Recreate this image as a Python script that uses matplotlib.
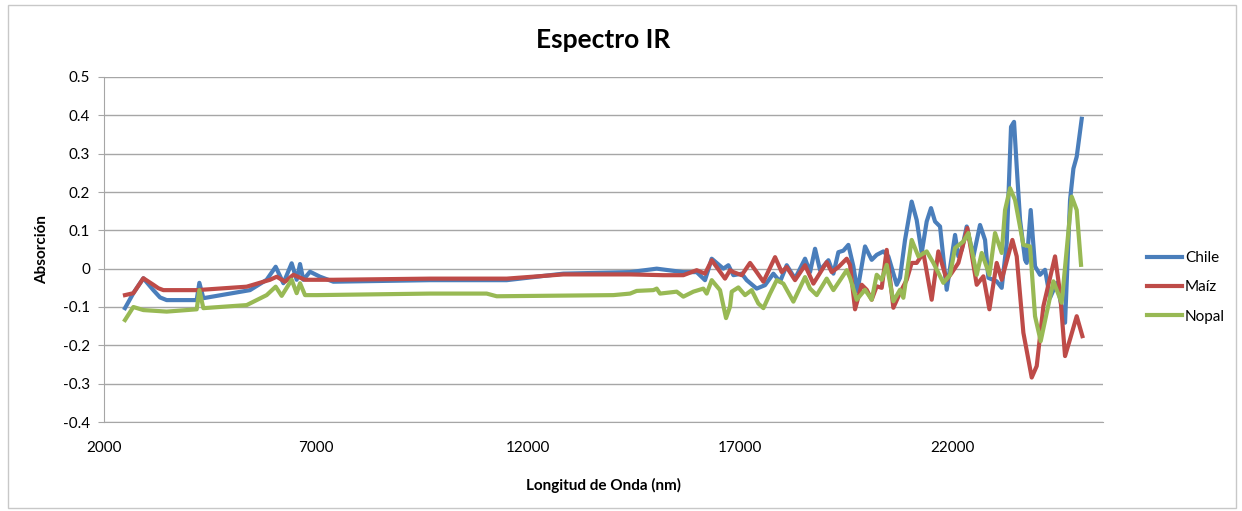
import matplotlib
matplotlib.use("Agg")
import matplotlib.pyplot as plt
from matplotlib.patches import Rectangle

# valores (longitud de onda, absorcion)
chile_x = [2495, 2692, 2928, 3164, 3321, 3478, 4186, 4249, 4343, 5443, 5836, 6049, 6230, 6426, 6544,
           6623, 6701, 6858, 7094, 7409, 9689, 11497, 12833, 14406, 15035, 15663, 15978, 16174,
           16332, 16607, 16725, 16843, 17040, 17157, 17393, 17590, 17786, 17944, 18101, 18297,
           18533, 18651, 18769, 18887, 19084, 19202, 19319, 19437, 19555, 19673, 19767, 19948,
           20105, 20223, 20380, 20498, 20695, 20773, 20891, 21048, 21166, 21284, 21402, 21504,
           21599, 21717, 21874, 22071, 22149, 22228, 22346, 22503, 22660, 22778, 22857, 23053,
           23171, 23289, 23391, 23462, 23525, 23604, 23722, 23761, 23855, 23957, 24075, 24193,
           24311, 24468, 24665, 24783, 24862, 24940, 25058]
chile_y = [-0.103, -0.064, -0.025, -0.056, -0.075, -0.082, -0.082, -0.037, -0.077, -0.056, -0.029,
           0.005, -0.038, 0.014, -0.029, 0.012, -0.029, -0.008, -0.021, -0.034, -0.030, -0.030,
           -0.013, -0.009, 0.0, -0.009, -0.009, -0.030, 0.026, 0.0, 0.009, -0.017, -0.013, -0.030,
           -0.052, -0.043, -0.013, -0.034, 0.009, -0.026, 0.026, -0.009, 0.052, -0.004, 0.022,
           -0.013, 0.043, 0.047, 0.062, 0.006, -0.059, 0.058, 0.023, 0.036, 0.045, 0.032, -0.042,
           -0.024, 0.075, 0.175, 0.127, 0.041, 0.123, 0.158, 0.123, 0.110, -0.055, 0.088, 0.032,
           0.049, 0.110, 0.032, 0.114, 0.075, -0.024, -0.033, -0.050, 0.067, 0.370, 0.383, 0.266,
           0.127, 0.023, 0.015, 0.153, 0.006, -0.016, -0.003, -0.076, -0.037, -0.141, 0.179, 0.261,
           0.292, 0.391]

maiz_x = [2495, 2692, 2928, 3164, 3282, 3400, 4186, 5365, 5915, 6073, 6269, 6466, 6741, 7409, 9689,
          11497, 12833, 14406, 15192, 15663, 15978, 16174, 16332, 16646, 16764, 16843, 17040, 17236,
          17393, 17551, 17826, 17983, 18101, 18297, 18533, 18730, 19044, 19162, 19319, 19516,
          19594, 19712, 19869, 19987, 20105, 20223, 20341, 20459, 20616, 20773, 20931, 21048,
          21166, 21324, 21520, 21677, 21874, 21992, 22149, 22361, 22582, 22739, 22881, 23053,
          23171, 23423, 23525, 23682, 23879, 23997, 24154, 24429, 24547, 24665, 24783, 24940,
          25074]
maiz_y = [-0.069, -0.064, -0.025, -0.042, -0.051, -0.056, -0.056, -0.047, -0.029, -0.021, -0.034,
          -0.016, -0.029, -0.029, -0.026, -0.026, -0.015, -0.015, -0.017, -0.017, -0.004, -0.013,
          0.022, -0.026, -0.004, -0.009, -0.017, 0.015, -0.009, -0.034, 0.030, -0.009, 0.004,
          -0.030, 0.009, -0.039, 0.017, -0.009, 0.004, 0.026, 0.010, -0.106, -0.042, -0.055,
          -0.081, -0.046, -0.050, 0.049, -0.102, -0.063, -0.029, 0.015, 0.015, 0.041, -0.081,
          0.045, -0.029, -0.011, 0.015, 0.106, -0.042, -0.020, -0.106, 0.015, -0.029, 0.075,
          0.032, -0.167, -0.284, -0.254, -0.098, 0.032, -0.063, -0.228, -0.184, -0.124, -0.176]

nopal_x = [2495, 2692, 2928, 3478, 4186, 4249, 4343, 5365, 5836, 6049, 6190, 6426, 6544, 6623,
           6741, 7016, 9689, 11025, 11261, 14013, 14406, 14563, 14956, 15035, 15113, 15506, 15663,
           15899, 16135, 16214, 16332, 16528, 16670, 16764, 16804, 16961, 17118, 17275, 17432,
           17551, 17708, 17865, 18022, 18258, 18533, 18651, 18808, 19044, 19202, 19359, 19516,
           19594, 19751, 19948, 20105, 20223, 20341, 20459, 20616, 20773, 20852, 21048, 21206,
           21402, 21560, 21795, 21953, 22071, 22267, 22385, 22582, 22700, 22881, 23014, 23171,
           23250, 23368, 23486, 23682, 23840, 23957, 24091, 24390, 24586, 24822, 24940, 25042]
nopal_y = [-0.134, -0.100, -0.108, -0.112, -0.106, -0.056, -0.103, -0.095, -0.069, -0.047, -0.071,
           -0.029, -0.064, -0.038, -0.069, -0.069, -0.065, -0.065, -0.072, -0.069, -0.065, -0.058,
           -0.056, -0.052, -0.065, -0.060, -0.073, -0.060, -0.052, -0.065, -0.030, -0.056, -0.129,
           -0.099, -0.060, -0.049, -0.069, -0.056, -0.091, -0.103, -0.065, -0.030, -0.039, -0.086,
           -0.022, -0.052, -0.069, -0.026, -0.056, -0.030, -0.004, -0.024, -0.081, -0.055, -0.081,
           -0.016, -0.029, 0.010, -0.085, -0.055, -0.076, 0.075, 0.032, 0.045, 0.015, -0.037,
           -0.016, 0.054, 0.071, 0.093, -0.016, 0.041, -0.016, 0.093, 0.041, 0.153, 0.210, 0.179,
           0.062, 0.058, -0.124, -0.189, -0.033, -0.089, 0.188, 0.153, 0.010]

x_ticks = [2000, 7000, 12000, 17000, 22000]
y_ticks = [-0.4, -0.3, -0.2, -0.1, 0, 0.1, 0.2, 0.3, 0.4, 0.5]
y_ticklabels = ['-0.4', '-0.3', '-0.2', '-0.1', '0', '0.1', '0.2', '0.3', '0.4', '0.5']

plt.rcParams['font.family'] = ['Lato', 'DejaVu Sans']

fig = plt.figure(figsize=(12.42, 5.11), dpi=100)
ax = fig.add_axes([104 / 1242, 1 - 422 / 511, (1103 - 104) / 1242, (422 - 77) / 511])

# borde del area del grafico
fig.patches.append(Rectangle((8 / 1242, 3 / 511), 1228 / 1242, 503 / 511, transform=fig.transFigure,
                             fill=False, edgecolor='#c8c8c8', lw=1))

ax.plot(chile_x, chile_y, color='#4a7ebb', lw=3, label='Chile')
ax.plot(maiz_x, maiz_y, color='#be4b48', lw=3, label='Maíz')
ax.plot(nopal_x, nopal_y, color='#98b954', lw=3, label='Nopal')

ax.set_xlim(2000, 25560)
ax.set_ylim(-0.4, 0.5)
ax.set_xticks(x_ticks)
ax.set_yticks(y_ticks)
ax.set_yticklabels(y_ticklabels)
ax.grid(axis='y', color='#a6a6a6', lw=1)
ax.set_axisbelow(True)
for s in ['top', 'right']:
    ax.spines[s].set_visible(False)
for s in ['left', 'bottom']:
    ax.spines[s].set_color('#a6a6a6')
ax.tick_params(axis='y', length=4, color='#a6a6a6', labelsize=11, pad=6)
ax.tick_params(axis='x', length=0, labelsize=11, pad=14)

ax.set_title('Espectro IR', fontsize=19, fontweight='bold', pad=21)
ax.set_xlabel('Longitud de Onda (nm)', fontsize=11, fontweight='bold', labelpad=16)
ax.set_ylabel('Absorción', fontsize=11, fontweight='bold', labelpad=10)

ax.legend(loc='center left', bbox_to_anchor=(1.03, 0.39), frameon=False, fontsize=11,
          handlelength=2.3, labelspacing=1.0, handletextpad=0.2)

fig.savefig('out.png', dpi=100)
